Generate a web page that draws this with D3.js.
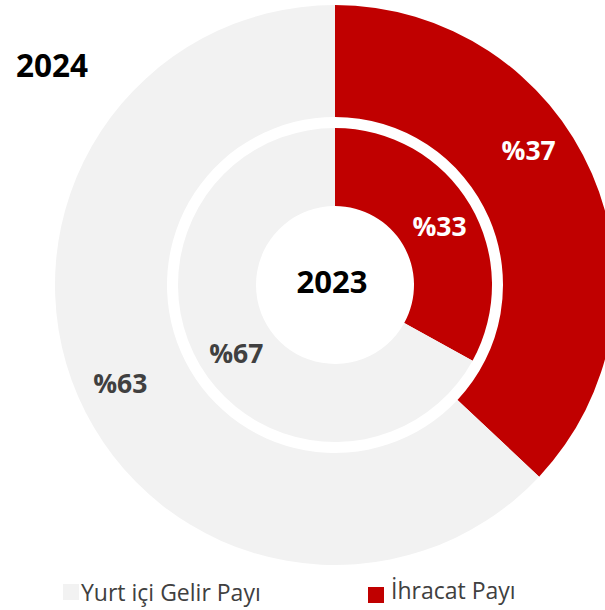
<!DOCTYPE html>
<html>
<head>
<meta charset="utf-8">
<script src="https://cdn.jsdelivr.net/npm/d3@7"></script>
<style>
  body { margin: 0; background: #fff; }
  svg { display: block; font-family: "Open Sans", sans-serif; }
</style>
</head>
<body>
<svg id="chart" width="605" height="610"></svg>
<script>
var categories = ["İhracat Payı", "Yurt içi Gelir Payı"];
var colors = ["#C00000", "#F2F2F2"];
var labelColors = ["#FFFFFF", "#404040"];
var share2023 = [33, 67];
var share2024 = [37, 63];

var svg = d3.select("#chart");
var cx = 335, cy = 285;

var g = svg.append("g").attr("transform", `translate(${cx},${cy})`);

var pie = d3.pie().sort(null).value(d => d);

// outer ring = 2024, inner ring = 2023
var rings = [
    { year: "2024", values: share2024, inner: 168, outer: 280, labelR: 236, nudge: [-0.2, -0.02] },
    { year: "2023", values: share2023, inner: 79, outer: 157, labelR: 120, nudge: [0.02, -0.07] }
];

rings.forEach(function(ring) {
    var arc = d3.arc().innerRadius(ring.inner).outerRadius(ring.outer);
    var slices = pie(ring.values);

    g.append("g").selectAll("path").data(slices).enter().append("path")
        .attr("d", arc)
        .attr("fill", (d, i) => colors[i]);

    g.append("g").selectAll("text").data(slices).enter().append("text")
        .attr("transform", function(d, i) {
            var a = (d.startAngle + d.endAngle) / 2 + ring.nudge[i];
            return `translate(${ring.labelR * Math.sin(a)},${-ring.labelR * Math.cos(a) + 10})`;
        })
        .attr("text-anchor", "middle")
        .attr("font-size", 26.5)
        .attr("font-weight", "bold")
        .attr("fill", (d, i) => labelColors[i])
        .text(d => "%" + d.data);
});

g.append("text")
    .attr("x", -3).attr("y", 8)
    .attr("text-anchor", "middle")
    .attr("font-size", 31)
    .attr("font-weight", "bold")
    .attr("fill", "#000")
    .text("2023");

svg.append("text")
    .attr("x", 16).attr("y", 77)
    .attr("font-size", 31.5)
    .attr("font-weight", "bold")
    .attr("fill", "#000")
    .text("2024");

// legend
var legendItems = [
    { name: categories[1], color: colors[1], x: 63, top: 584, base: 601, gap: 18 },
    { name: categories[0], color: colors[0], x: 368, top: 587, base: 599, gap: 23 }
];

var legend = svg.append("g").selectAll("g").data(legendItems).enter().append("g")
    .attr("transform", d => `translate(${d.x},0)`);

legend.append("rect")
    .attr("x", 0).attr("y", d => d.top)
    .attr("width", 16).attr("height", 16)
    .attr("fill", d => d.color);

legend.append("text")
    .attr("x", d => d.gap)
    .attr("y", d => d.base)
    .attr("font-size", 23)
    .attr("fill", "#404040")
    .text(d => d.name);
</script>
</body>
</html>
